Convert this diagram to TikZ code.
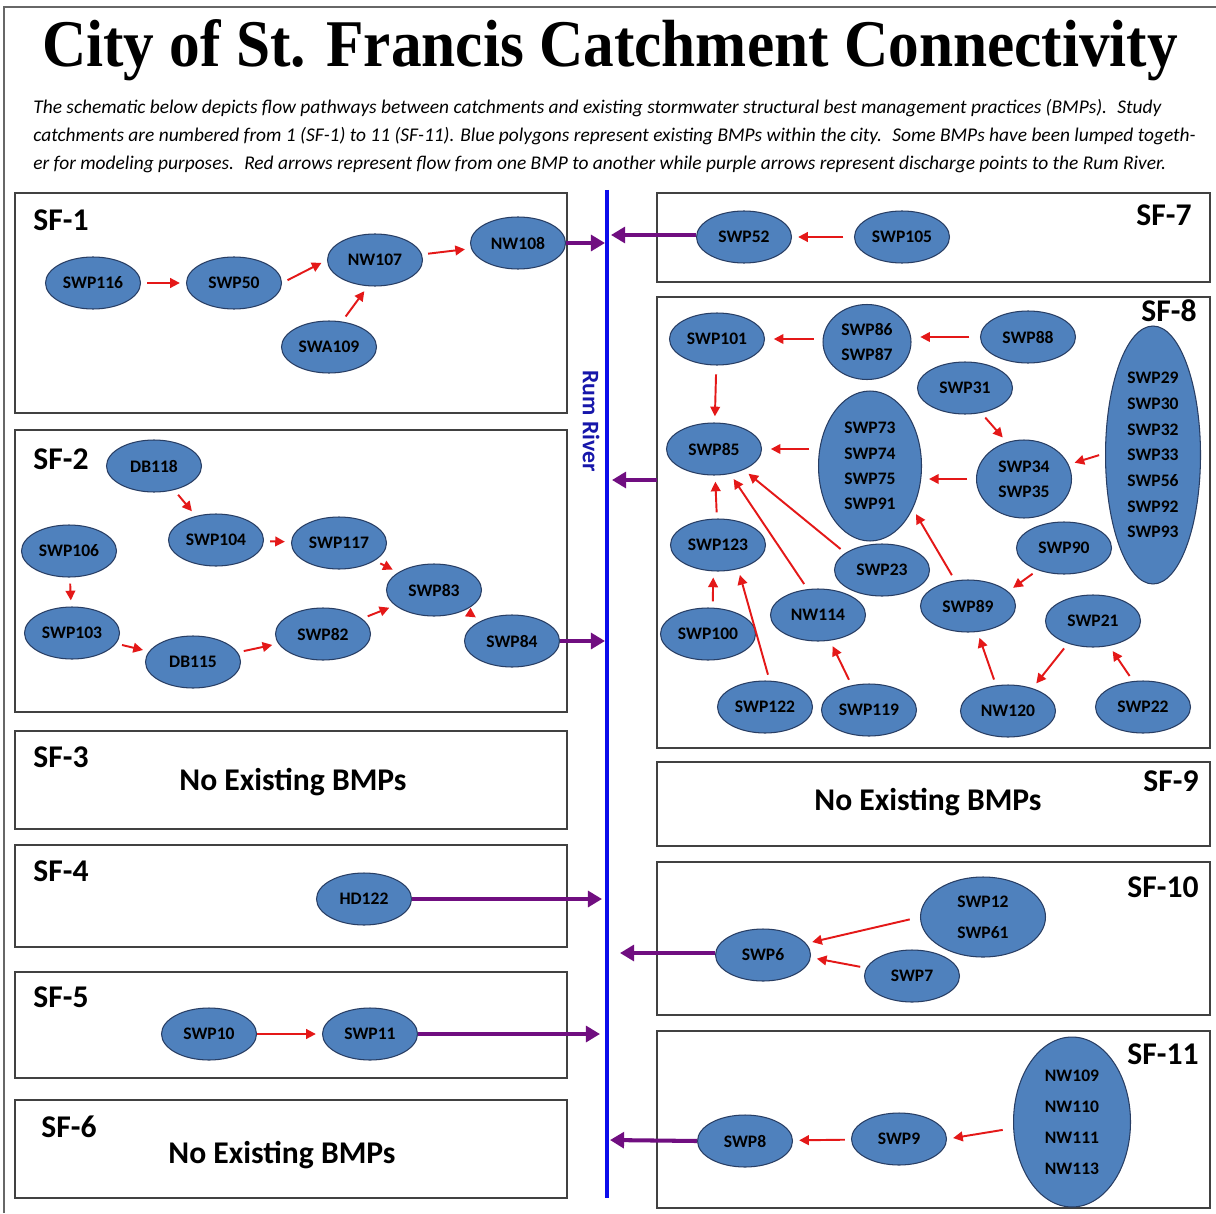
\documentclass[tikz,border=0pt]{standalone}
\usepackage{graphicx}
\usepackage{fontspec}
\setmainfont{Carlito}
\newfontfamily\titlefont{Liberation Serif}
\usetikzlibrary{shapes.geometric,arrows.meta}
\definecolor{bmpfill}{RGB}{79,129,189}
\definecolor{bmpline}{RGB}{40,62,100}
\definecolor{flowred}{RGB}{228,24,24}
\definecolor{discharge}{RGB}{112,14,128}
\definecolor{riverblue}{RGB}{12,12,235}
\definecolor{rivertext}{RGB}{22,22,170}
\definecolor{zoneline}{RGB}{65,65,65}

\begin{document}
\begin{tikzpicture}[x=0.02cm,y=-0.02cm,
  bmp/.style={ellipse, draw=bmpline, fill=bmpfill, line width=0.6pt, inner sep=0pt,
    minimum width=1.9cm, minimum height=1.04cm, align=center, text=black,
    font=\bfseries\fontsize{10}{14.4}\selectfont},
  flow/.style={draw=flowred, line width=1.1pt, -{Triangle[length=5.5pt,width=5.5pt]},
    shorten <=3.5pt, shorten >=3.5pt},
  discharge/.style={draw=discharge, line width=2.3pt, -{Triangle[length=8pt,width=9pt]}},
  zone/.style={draw=zoneline, line width=0.85pt},
  zonelabel/.style={inner sep=0pt, font=\bfseries\fontsize{18}{20}\selectfont},
  nobmp/.style={inner sep=0pt, anchor=base, font=\bfseries\fontsize{18}{20}\selectfont},
  desc/.style={inner sep=0pt, anchor=base west, font=\itshape\fontsize{11.05}{13}\selectfont},
]
\useasboundingbox (0,0) rectangle (1216,1213);
\fill[white] (0,0) rectangle (1216,1213);
\draw[draw=zoneline!80, line width=1pt] (4,1213) -- (4,7) -- (1216,7);

% heading and explanatory text
\node[anchor=base, inner sep=0pt] (title) at (610,67)
  {\resizebox{22.72cm}{0.94cm}{\titlefont\bfseries City of St. Francis Catchment Connectivity}};
\node[desc] (desc1) at (33,114) {The schematic below depicts flow pathways between catchments and existing stormwater structural best management practices (BMPs).~ Study};
\node[desc] (desc2) at (33,142) {catchments are numbered from 1 (SF-1) to 11 (SF-11). Blue polygons represent existing BMPs within the city.~ Some BMPs have been lumped togeth-};
\node[desc] (desc3) at (33,170) {er for modeling purposes.~ Red arrows represent flow from one BMP to another while purple arrows represent discharge points to the Rum River.};

% catchment boxes
\draw[zone] (15,193) rectangle (567,413);
\draw[zone] (15,430) rectangle (567,712);
\draw[zone] (15,731) rectangle (567,829);
\draw[zone] (15,845) rectangle (567,947);
\draw[zone] (15,972) rectangle (567,1078);
\draw[zone] (15,1100) rectangle (567,1198);
\draw[zone] (657,193) rectangle (1210,282);
\draw[zone] (657,297) rectangle (1210,748);
\draw[zone] (657,762) rectangle (1210,846);
\draw[zone] (657,862) rectangle (1210,1015);
\draw[zone] (657,1031) rectangle (1210,1208);

\node[zonelabel, anchor=west] (sf1) at (33,220) {SF-1};
\node[zonelabel, anchor=west] (sf2) at (33,459) {SF-2};
\node[zonelabel, anchor=west] (sf3) at (33,757) {SF-3};
\node[zonelabel, anchor=west] (sf4) at (33,871) {SF-4};
\node[zonelabel, anchor=west] (sf5) at (33,997) {SF-5};
\node[zonelabel, anchor=west] (sf6) at (41,1127) {SF-6};
\node[zonelabel, anchor=east] (sf7) at (1192,215) {SF-7};
\node[zonelabel, anchor=east] (sf8) at (1197,311) {SF-8};
\node[zonelabel, anchor=east] (sf9) at (1199,781) {SF-9};
\node[zonelabel, anchor=east] (sf10) at (1199,887) {SF-10};
\node[zonelabel, anchor=east] (sf11) at (1199,1054) {SF-11};

\node[nobmp] (none3) at (293,790) {No Existing BMPs};
\node[nobmp] (none9) at (928,810) {No Existing BMPs};
\node[nobmp] (none6) at (282,1163) {No Existing BMPs};

% Rum River
\draw[riverblue, line width=2.8pt] (607,190) -- (607,1198);
\node[rotate=-90, inner sep=0pt, text=rivertext, font=\bfseries\fontsize{13.5}{15}\selectfont] (rum) at (591,421) {Rum River};

% SF-1
\node[bmp] (swp116) at (93,283) {SWP116};
\node[bmp] (swp50) at (234,283) {SWP50};
\node[bmp] (nw107) at (375,260) {NW107};
\node[bmp] (nw108) at (518,243) {NW108};
\node[bmp] (swa109) at (329,347) {SWA109};
\draw[flow] (swp116) -- (swp50);
\draw[flow] (swp50.east) -- (nw107.west);
\draw[flow] (swa109.63) -- (nw107.-105);
\draw[flow] (nw107) -- (nw108);

% SF-2
\node[bmp] (db118) at (154,466) {DB118};
\node[bmp] (swp106) at (69,551) {SWP106};
\node[bmp] (swp104) at (216,540) {SWP104};
\node[bmp] (swp117) at (339,543) {SWP117};
\node[bmp] (swp83) at (434,590) {SWP83};
\node[bmp] (swp103) at (72,633) {SWP103};
\node[bmp] (db115) at (193,662) {DB115};
\node[bmp] (swp82) at (323,634) {SWP82};
\node[bmp] (swp84) at (512,641) {SWP84};
\draw[flow] (db118) -- (swp104);
\draw[flow] (swp104) -- (swp117);
\draw[flow] (swp117) -- (swp83);
\draw[flow] (swp106) -- (swp103);
\draw[flow] (swp103) -- (db115);
\draw[flow] (db115) -- (swp82);
\draw[flow] (swp82) -- (swp83);
\draw[flow] (swp83) -- (swp84);

% SF-4 and SF-5
\node[bmp] (hd122) at (364,899) {HD122};
\node[bmp] (swp10) at (209,1034) {SWP10};
\node[bmp] (swp11) at (370,1034) {SWP11};
\draw[flow, shorten <=0pt] (swp10) -- (swp11);

% SF-7
\node[bmp] (swp52) at (744,237) {SWP52};
\node[bmp] (swp105) at (902,237) {SWP105};
\draw[flow, shorten <=6pt] (swp105) -- (swp52);

% SF-8
\node[bmp] (swp101) at (717,339) {SWP101};
\node[bmp, minimum width=1.76cm, minimum height=1.5cm] (swp86) at (867,342) {SWP86\\SWP87};
\node[bmp] (swp88) at (1028,337) {SWP88};
\node[bmp] (swp31) at (965,388) {SWP31};
\node[bmp, minimum width=1.9cm, minimum height=5.16cm, font=\bfseries\fontsize{10}{14.6}\selectfont] (swp29) at (1153,455)
  {SWP29\\SWP30\\SWP32\\SWP33\\SWP56\\SWP92\\SWP93};
\node[bmp] (swp85) at (714,449) {SWP85};
\node[bmp, minimum width=2.06cm, minimum height=3.0cm] (swp73) at (870,466) {SWP73\\SWP74\\SWP75\\SWP91};
\node[bmp, minimum width=1.9cm, minimum height=1.56cm] (swp34) at (1024,479) {SWP34\\SWP35};
\node[bmp] (swp123) at (718,545) {SWP123};
\node[bmp] (swp23) at (882,570) {SWP23};
\node[bmp] (swp90) at (1064,548) {SWP90};
\node[bmp] (nw114) at (818,615) {NW114};
\node[bmp] (swp89) at (968,606) {SWP89};
\node[bmp] (swp21) at (1093,621) {SWP21};
\node[bmp] (swp100) at (708,634) {SWP100};
\node[bmp] (swp122) at (765,707) {SWP122};
\node[bmp] (swp119) at (869,710) {SWP119};
\node[bmp] (nw120) at (1008,711) {NW120};
\node[bmp] (swp22) at (1143,707) {SWP22};

\draw[flow, shorten <=6pt, shorten >=5pt] (swp88.west) -- (swp86.east |- swp88.west);
\draw[flow, shorten <=5pt, shorten >=5pt] (swp86.west |- swp101.east) -- (swp101.east);
\draw[flow, shorten <=5pt] (swp101) -- (swp85);
\draw[flow, shorten <=5pt, shorten >=5pt] (swp73.west |- swp85.east) -- (swp85.east);
\draw[flow, shorten <=5pt, shorten >=4pt] (swp34.west) -- (swp73.east |- swp34.west);
\draw[flow] (swp31.-57) -- (swp34.115);
\draw[flow] (swp29.178) -- (swp34.18);
\draw[flow] (swp123) -- (swp85);
\draw[flow] (swp23.155) -- (swp85.-35);
\draw[flow] (nw114.112) -- (swp85.-57);
\draw[flow] (swp89.117) -- (swp73.-45);
\draw[flow] (swp90.-140) -- (swp89.20);
\draw[flow] (swp100.80) -- (swp123.-100);
\draw[flow] (swp122.80) -- (swp123.-50);
\draw[flow] (swp119.125) -- (nw114.-65);
\draw[flow] (nw120.115) -- (swp89.-70);
\draw[flow] (swp21.-138) -- (nw120.43);
\draw[flow] (swp22.111) -- (swp21.-57);

% SF-10
\node[bmp, minimum width=2.5cm, minimum height=1.6cm, font=\bfseries\fontsize{10}{17.6}\selectfont] (swp12) at (983,917) {SWP12\\SWP61};
\node[bmp] (swp6) at (763,955) {SWP6};
\node[bmp] (swp7) at (912,976) {SWP7};
\draw[flow, shorten <=6pt] (swp12.west) -- (swp6.15);
\draw[flow] (swp7.170) -- (swp6.-3);

% SF-11
\node[bmp, minimum width=2.34cm, minimum height=3.4cm, font=\bfseries\fontsize{10}{17.6}\selectfont] (nw109) at (1072,1122)
  {NW109\\NW110\\NW111\\NW113};
\node[bmp] (swp9) at (899,1139) {SWP9};
\node[bmp] (swp8) at (745,1141) {SWP8};
\draw[flow, shorten <=6pt] (nw109.186) -- (swp9.east);
\draw[flow] (swp9) -- (swp8);

% discharge points to the river
\coordinate (out1) at (605,243);
\coordinate (out2) at (605,641);
\coordinate (out4) at (602,899);
\coordinate (out5) at (600,1034);
\coordinate (in7) at (611,235);
\coordinate (src8) at (657,480);
\coordinate (in8) at (612,480);
\coordinate (in10) at (620,953);
\coordinate (in11) at (610,1140);
\draw[discharge] (nw108.east) -- (out1);
\draw[discharge] (swp84.east) -- (out2);
\draw[discharge] (hd122.east) -- (out4);
\draw[discharge] (swp11.east) -- (out5);
\draw[discharge] (swp52.west |- in7) -- (in7);
\draw[discharge] (src8) -- (in8);
\draw[discharge] (swp6.west |- in10) -- (in10);
\draw[discharge] (swp8.west) -- (in11);
\end{tikzpicture}
\end{document}
